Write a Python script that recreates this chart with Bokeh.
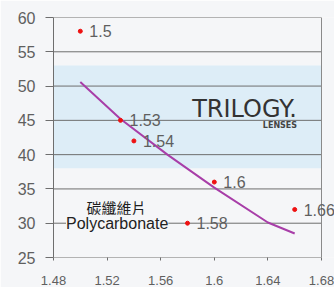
from bokeh.plotting import figure
from bokeh.models import (BoxAnnotation, ColumnDataSource, Label, LabelSet,
                          FixedTicker, Range1d)
from bokeh.core.properties import value
from bokeh.embed import file_html
from bokeh.resources import INLINE

# Lens materials: refractive index vs Abbe value
index_x = [1.5, 1.53, 1.54, 1.58, 1.6, 1.66]
abbe_y = [58, 45, 42, 30, 36, 32]
point_labels = ["1.5", "1.53", "1.54", "1.58", "1.6", "1.66"]

# Trilogy curve
curve_x = [1.5, 1.53, 1.565, 1.6, 1.64, 1.66]
curve_y = [50.6, 45.2, 40.0, 35.2, 30.1, 28.5]

# Highlight band
band_low, band_high = 38, 53

xticks = [1.48, 1.52, 1.56, 1.6, 1.64, 1.68]
xtick_labels = ["1.48", "1.52", "1.56", "1.6", "1.64", "1.68"]
yticks = [25, 30, 35, 40, 45, 50, 55, 60]

BG = "#f5f6f8"
GRID = "#6e6e6e"
TXT = "#5f5f5f"
FONT = "Liberation Sans"

X0, X1, Y0, Y1 = xticks[0], xticks[-1], yticks[0], yticks[-1]
# the drawn chart box is 268px wide; the frame is extended 13px to the right
# so that the last point label can run past the box edge, as in the original
X_END = X0 + (X1 - X0) * 281 / 268

p = figure(width=334, height=287, output_backend="svg", toolbar_location=None,
           x_range=Range1d(X0, X_END), y_range=Range1d(Y0, Y1),
           min_border_left=53, min_border_right=0, min_border_top=17,
           min_border_bottom=30)
p.background_fill_color = BG
p.border_fill_color = BG
p.outline_line_color = None

p.add_layout(BoxAnnotation(left=X0, right=X1, bottom=band_low, top=band_high,
                           fill_color="#ddedf7", fill_alpha=1, line_alpha=0,
                           level="image"))

p.grid.visible = False

# horizontal grid lines and right border limited to the chart box
p.segment(x0=[X0] * len(yticks), x1=[X1] * len(yticks), y0=yticks, y1=yticks,
          line_color=GRID, line_width=1)
p.segment(x0=[X1], x1=[X1], y0=[Y0], y1=[Y1], line_color="#8a8a8a", line_width=1)

p.yaxis.ticker = FixedTicker(ticks=yticks)
p.yaxis.major_tick_out = 8
p.yaxis.major_tick_in = 0
p.yaxis.minor_tick_line_color = None
p.yaxis.major_label_standoff = 10
p.yaxis.major_label_text_font_size = "16px"
p.yaxis.major_label_text_color = TXT
p.yaxis.major_label_text_font = FONT
p.yaxis.axis_line_color = GRID
p.yaxis.major_tick_line_color = GRID

p.xaxis.ticker = FixedTicker(ticks=xticks)
p.xaxis.major_label_overrides = {t: l for t, l in zip(xticks, xtick_labels)}
p.xaxis.major_tick_out = 3
p.xaxis.major_tick_in = 0
p.xaxis.minor_tick_line_color = None
p.xaxis.major_label_standoff = 15
p.xaxis.major_label_text_font_size = "13px"
p.xaxis.major_label_text_color = TXT
p.xaxis.major_label_text_font = FONT
p.xaxis.axis_line_color = None
p.xaxis.major_tick_line_color = GRID

p.line(curve_x, curve_y, line_color="#a83ea8", line_width=2)

src = ColumnDataSource(dict(x=index_x, y=abbe_y, t=point_labels))
p.scatter("x", "y", source=src, size=4, color="#ee1111")
p.add_layout(LabelSet(x="x", y="y", text="t", source=src, x_offset=9,
                      text_baseline="middle", text_font=value(FONT),
                      text_font_size="16px", text_color=TXT))

p.add_layout(Label(x=1.6225, y=46.7, text="TRILOGY.", text_align="center",
                   text_baseline="middle", text_font="DejaVu Sans",
                   text_font_size="24px", text_color="#333333"))
p.add_layout(Label(x=1.649, y=44.2, text="LENSES", text_align="center",
                   text_baseline="middle", text_font="DejaVu Sans",
                   text_font_size="8px", text_font_style="bold",
                   text_color="#444444"))

p.add_layout(Label(x=1.527, y=32.3, text="碳纖維片", text_align="center",
                   text_baseline="middle", text_font="Noto Sans CJK TC",
                   text_font_size="15px", text_color="#1e1e1e"))
p.add_layout(Label(x=1.5275, y=30, text="Polycarbonate", text_align="center",
                   text_baseline="middle", text_font=FONT,
                   text_font_size="16px", text_color="#222222",
                   background_fill_color=BG, background_fill_alpha=1))

open("out.html", "w").write(file_html(p, INLINE))
